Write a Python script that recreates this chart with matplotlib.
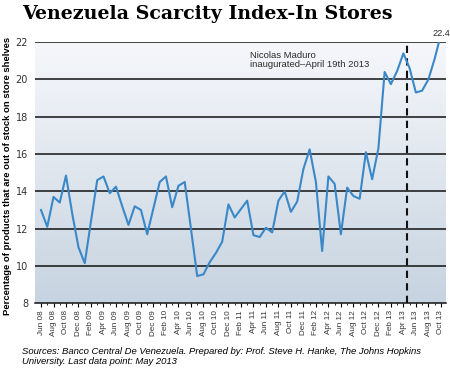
"""Venezuela scarcity index in stores, monthly Jun 2008 - Oct 2013."""

import matplotlib
matplotlib.use('Agg')
import matplotlib.pyplot as plt
import numpy as np


MONTHS = ['Jun', 'Jul', 'Aug', 'Sep', 'Oct', 'Nov', 'Dec',
          'Jan', 'Feb', 'Mar', 'Apr', 'May']

# scarcity index, one value per month starting Jun 08
SCARCITY = [
    13.0, 12.1, 13.7, 13.4, 14.85, 12.8, 11.0,          # Jun08 - Dec08
    10.15, 12.4, 14.6, 14.8, 13.9, 14.25, 13.2, 12.2,   # Jan09 - Aug09
    13.2, 13.0, 11.7, 13.1,                             # Sep09 - Dec09
    14.5, 14.8, 13.15, 14.3, 14.5, 12.0, 9.46, 9.55,    # Jan10 - Aug10
    10.2, 10.7, 11.3, 13.3,                             # Sep10 - Dec10
    12.6, 13.05, 13.5, 11.65, 11.55, 12.05, 11.8, 13.5,  # Jan11 - Aug11
    14.0, 12.9, 13.45, 15.2,                            # Sep11 - Dec11
    16.25, 14.5, 10.8, 14.8, 14.4, 11.7, 14.2, 13.75,   # Jan12 - Aug12
    13.6, 16.1, 14.65, 16.3,                            # Sep12 - Dec12
    20.4, 19.75, 20.45, 21.4, 20.6, 19.3, 19.4, 20.0,   # Jan13 - Aug13
    21.1, 22.4,                                         # Sep13 - Oct13
]
FIRST_YEAR = 8
LAST_VALUE_LABEL = '22.4'

# Maduro inauguration, 19 April 2013, as months after Jun 08
INAUGURATION = 58 + 18 / 30
INAUGURATION_TEXT = 'Nicolas Maduro\ninaugurated\u2013April 19th 2013'

Y_TICKS = [8, 10, 12, 14, 16, 18, 20, 22]

TITLE = 'Venezuela Scarcity Index-In Stores'
Y_LABEL = 'Percentage of products that are out of stock on store shelves'
SOURCE = ('Sources: Banco Central De Venezuela. Prepared by: Prof. Steve H. '
          'Hanke, The Johns Hopkins\nUniversity. Last data point: May 2013')


def _month_labels(n):
    labels = []
    for i in range(n):
        year = FIRST_YEAR + (i + 5) // 12
        labels.append('%s %02d' % (MONTHS[i % 12], year))
    return labels


def _main():
    x = np.arange(len(SCARCITY))
    labels = _month_labels(len(SCARCITY))

    fig = plt.figure(figsize=(4.5, 3.73), dpi=100)
    ax = fig.add_axes([0.0778, 0.187, 0.913, 0.70])

    # background gradient
    grad = np.linspace(0, 1, 256).reshape(-1, 1)
    cmap = matplotlib.colors.LinearSegmentedColormap.from_list(
        'bg', ['#c6d3e0', '#dfe6ee', '#f6f7fb'])
    ax.imshow(grad, extent=[0, 1, 0, 1], transform=ax.transAxes,
              cmap=cmap, aspect='auto', origin='lower', zorder=0)

    for y in Y_TICKS[1:]:
        ax.axhline(y, color='#111111', lw=1.1, zorder=1)

    ax.plot(x, SCARCITY, color='#3a88c8', lw=1.5, zorder=3)

    ax.axvline(INAUGURATION, color='#111111', lw=1.5,
               dashes=(3.5, 2.5), zorder=2)
    ax.text(33.4, 21.55, INAUGURATION_TEXT, fontsize=6.8, color='#2b2b2b',
            va='top', ha='left', linespacing=1.05,
            family='Liberation Sans')
    ax.text(x[-1], SCARCITY[-1] + 0.05, LAST_VALUE_LABEL, fontsize=6.6,
            color='#2b2b2b', ha='center', va='center', clip_on=False,
            family='Liberation Sans')

    ax.set_xlim(-0.96, 64.8)
    ax.set_ylim(8, 22)
    ax.set_yticks(Y_TICKS)
    ax.tick_params(axis='y', length=0, pad=5, labelsize=7,
                   labelcolor='#333333')
    ax.set_xticks(x[::2])
    ax.set_xticklabels(labels[::2], rotation=90, fontsize=5.9,
                       color='#333333', family='Liberation Sans')
    ax.set_xticks(x, minor=True)
    ax.tick_params(axis='x', which='major', length=3, width=0.8, pad=2)
    ax.tick_params(axis='x', which='minor', length=1.5, width=0.6)
    for side in ['top', 'right', 'left']:
        ax.spines[side].set_visible(False)
    ax.spines['bottom'].set_color('#111111')
    ax.spines['bottom'].set_linewidth(1.1)

    ax.set_ylabel(Y_LABEL, fontsize=6.8, fontweight='bold',
                  family='Liberation Sans')
    ax.yaxis.set_label_coords(-0.055, 0.486)

    fig.text(0.049, 0.962, TITLE, fontsize=13.7, fontweight='bold',
             family='DejaVu Serif', va='center', ha='left')
    fig.text(0.049, 0.044, SOURCE, fontsize=6.8, style='italic',
             family='Liberation Sans', va='center', ha='left',
             linespacing=1.15)

    fig.savefig('out.png', dpi=100)


if __name__ == '__main__':
    _main()
